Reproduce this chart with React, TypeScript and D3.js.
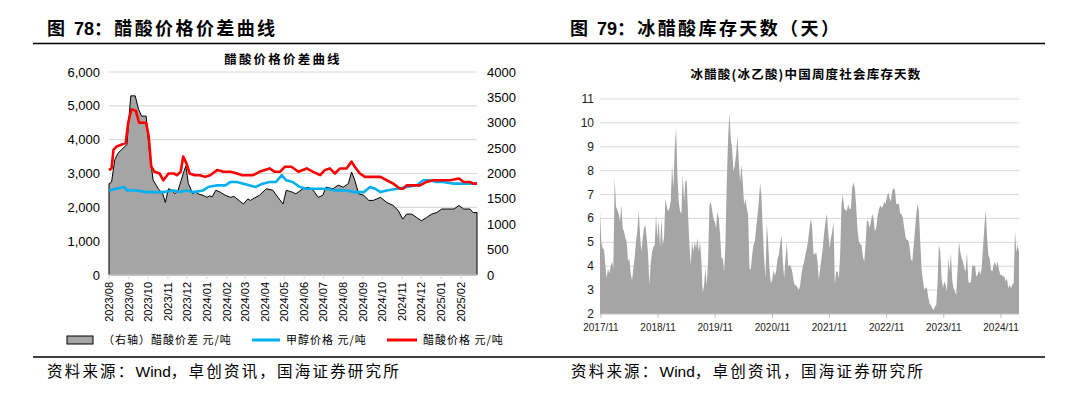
import * as d3 from "d3";

const W = 1075, H = 394;
const CJK = "'Noto Sans CJK SC', sans-serif";
const NUM = "'Liberation Sans', Arial, sans-serif";

// Fig 78 — acetic acid price, methanol price (left axis), spread (right axis)
const spreadData: [string, number][] = [
  ["2023-08-01", 1800], ["2023-08-05", 1830], ["2023-08-10", 2270], ["2023-08-15", 2400], ["2023-08-23", 2500],
  ["2023-08-29", 2570], ["2023-09-04", 3530], ["2023-09-11", 3530], ["2023-09-16", 3270], ["2023-09-21", 3130],
  ["2023-09-28", 3130], ["2023-10-04", 2330], ["2023-10-09", 1870], ["2023-10-17", 1700], ["2023-10-24", 1600],
  ["2023-10-28", 1430], ["2023-11-02", 1700], ["2023-11-07", 1670], ["2023-11-12", 1600], ["2023-11-17", 1670],
  ["2023-11-25", 2000], ["2023-11-29", 2150], ["2023-12-03", 1800], ["2023-12-10", 1600], ["2023-12-14", 1640],
  ["2023-12-18", 1600], ["2023-12-26", 1570], ["2024-01-01", 1530], ["2024-01-05", 1560], ["2024-01-09", 1540],
  ["2024-01-15", 1670], ["2024-01-22", 1630], ["2024-01-30", 1570], ["2024-02-07", 1530], ["2024-02-12", 1550],
  ["2024-02-17", 1500], ["2024-02-27", 1400], ["2024-03-05", 1500], ["2024-03-09", 1470], ["2024-03-13", 1500],
  ["2024-03-23", 1570], ["2024-04-03", 1700], ["2024-04-13", 1670], ["2024-04-21", 1530], ["2024-04-29", 1400],
  ["2024-05-04", 1670], ["2024-05-09", 1650], ["2024-05-14", 1630], ["2024-05-19", 1600], ["2024-05-30", 1700],
  ["2024-06-07", 1730], ["2024-06-15", 1670], ["2024-06-23", 1530], ["2024-06-30", 1570], ["2024-07-05", 1730],
  ["2024-07-16", 1700], ["2024-07-24", 1770], ["2024-08-01", 1730], ["2024-08-09", 1800], ["2024-08-14", 2030],
  ["2024-08-19", 1870], ["2024-08-25", 1600], ["2024-09-02", 1570], ["2024-09-10", 1470], ["2024-09-17", 1470],
  ["2024-09-28", 1530], ["2024-10-08", 1430], ["2024-10-18", 1370], ["2024-10-26", 1270], ["2024-11-02", 1100],
  ["2024-11-08", 1200], ["2024-11-16", 1200], ["2024-11-24", 1130], ["2024-12-01", 1070], ["2024-12-09", 1130],
  ["2024-12-17", 1200], ["2024-12-25", 1230], ["2025-01-02", 1300], ["2025-01-10", 1300], ["2025-01-21", 1300],
  ["2025-01-29", 1370], ["2025-02-05", 1300], ["2025-02-15", 1300], ["2025-02-20", 1230], ["2025-02-26", 1230],
];

const aceticData: [string, number][] = [
  ["2023-08-01", 3100], ["2023-08-05", 3150], ["2023-08-08", 3700], ["2023-08-13", 3800], ["2023-08-20", 3850],
  ["2023-08-27", 3900], ["2023-08-31", 4500], ["2023-09-05", 4900], ["2023-09-12", 4850], ["2023-09-17", 4500],
  ["2023-09-28", 4500], ["2023-10-02", 4100], ["2023-10-06", 3200], ["2023-10-11", 3050], ["2023-10-19", 3000],
  ["2023-10-25", 2800], ["2023-11-02", 3000], ["2023-11-10", 3000], ["2023-11-15", 2950], ["2023-11-21", 3050],
  ["2023-11-25", 3500], ["2023-11-30", 3300], ["2023-12-05", 3000], ["2023-12-13", 2950], ["2023-12-21", 2950],
  ["2023-12-29", 2900], ["2024-01-06", 2950], ["2024-01-17", 3100], ["2024-01-27", 3050], ["2024-02-07", 3050],
  ["2024-02-17", 3000], ["2024-02-25", 2950], ["2024-03-13", 2950], ["2024-03-23", 3050], ["2024-04-08", 3150],
  ["2024-04-16", 3050], ["2024-04-24", 3050], ["2024-05-02", 3200], ["2024-05-12", 3200], ["2024-05-23", 3050],
  ["2024-06-05", 3150], ["2024-06-15", 3050], ["2024-06-26", 2950], ["2024-07-03", 3100], ["2024-07-11", 3150],
  ["2024-07-19", 3000], ["2024-07-27", 3150], ["2024-08-06", 3150], ["2024-08-14", 3350], ["2024-08-19", 3200],
  ["2024-08-27", 3000], ["2024-09-04", 2900], ["2024-09-17", 2900], ["2024-09-28", 2900], ["2024-10-08", 2800],
  ["2024-10-18", 2700], ["2024-10-29", 2550], ["2024-11-03", 2550], ["2024-11-08", 2650], ["2024-11-19", 2650],
  ["2024-11-29", 2650], ["2024-12-09", 2750], ["2024-12-19", 2800], ["2024-12-30", 2800], ["2025-01-15", 2800],
  ["2025-01-29", 2850], ["2025-02-05", 2750], ["2025-02-15", 2750], ["2025-02-20", 2700], ["2025-02-26", 2700],
];

const methanolData: [string, number][] = [
  ["2023-08-01", 2500], ["2023-08-12", 2550], ["2023-08-25", 2600], ["2023-08-29", 2500], ["2023-09-13", 2500],
  ["2023-09-29", 2450], ["2023-10-11", 2450], ["2023-10-24", 2450], ["2023-11-10", 2500], ["2023-11-20", 2450],
  ["2023-11-30", 2500], ["2023-12-10", 2450], ["2023-12-26", 2500], ["2024-01-03", 2600], ["2024-01-17", 2650],
  ["2024-01-30", 2650], ["2024-02-07", 2750], ["2024-02-17", 2750], ["2024-02-27", 2700], ["2024-03-07", 2650],
  ["2024-03-17", 2600], ["2024-03-28", 2700], ["2024-04-08", 2750], ["2024-04-18", 2750], ["2024-04-27", 2950],
  ["2024-05-04", 2800], ["2024-05-14", 2750], ["2024-05-25", 2600], ["2024-06-05", 2550], ["2024-06-20", 2550],
  ["2024-07-05", 2550], ["2024-07-21", 2500], ["2024-08-06", 2500], ["2024-08-19", 2450], ["2024-09-02", 2450],
  ["2024-09-12", 2600], ["2024-09-20", 2550], ["2024-09-28", 2450], ["2024-10-08", 2500], ["2024-10-24", 2550],
  ["2024-11-08", 2600], ["2024-11-24", 2650], ["2024-12-04", 2800], ["2024-12-14", 2800], ["2024-12-25", 2750],
  ["2025-01-04", 2750], ["2025-01-21", 2700], ["2025-02-05", 2700], ["2025-02-26", 2700],
];

const leftTicks = [0, 1000, 2000, 3000, 4000, 5000, 6000];
const rightTicks = [0, 500, 1000, 1500, 2000, 2500, 3000, 3500, 4000];

// Fig 79 — weekly social inventory days, read in order from 2017/11 to 2025/02
const stockStart = "2017-10-26";
const stockEnd = "2025-02-24";
const stockDays: number[] = [
  6.3, 5.0, 4.75, 4.7, 4.05, 3.5, 3.9, 3.7, 4.0, 4.2, 3.9, 7.7, 6.5, 6.35, 6.2, 5.87, 6.56, 5.59, 5.45, 5.2,
  5.0, 4.2, 4.33, 3.7, 3.4, 3.9, 4.4, 5.03, 5.5, 6.36, 5.31, 4.61, 5.17, 5.6, 5.73, 5.2, 4.5, 3.22, 4.1, 4.6,
  4.8, 4.89, 6.15, 5.17, 5.95, 4.75, 6.0, 4.89, 5.2, 6.84, 6.5, 6.3, 6.43, 6.7, 8.24, 7.26, 8.94, 9.8, 7.82, 6.7,
  6.29, 6.2, 7.89, 6.7, 7.61, 7.54, 6.15, 4.89, 4.05, 5.03, 4.61, 5.03, 4.75, 5.17, 4.61, 5.03, 4.2, 2.87, 3.22, 3.91,
  3.22, 4.2, 6.56, 6.7, 6.36, 6.0, 5.87, 5.59, 6.29, 6.0, 5.31, 4.33, 4.33, 3.78, 4.89, 7.54, 9.35, 10.44, 9.35, 8.94,
  7.96, 8.24, 8.66, 9.49, 8.38, 7.54, 8.24, 7.54, 6.56, 6.84, 6.43, 6.15, 3.91, 3.85, 4.47, 4.89, 5.03, 5.59, 6.1, 6.7,
  7.47, 6.9, 5.5, 4.3, 3.5, 5.8, 5.0, 3.9, 3.3, 3.4, 3.85, 3.6, 3.8, 4.3, 4.47, 4.9, 5.31, 4.2, 3.5, 4.3,
  5.0, 4.0, 4.05, 4.0, 3.8, 3.4, 3.2, 3.2, 3.1, 3.0, 3.2, 3.7, 4.0, 4.2, 4.5,
  4.75, 5.1, 5.6, 6.0, 5.59, 4.5, 4.5, 4.6, 4.2, 3.43, 3.9, 4.3, 4.8, 5.4, 5.87, 6.2, 5.45, 4.75, 5.17, 5.45,
  5.87, 3.22, 3.78, 3.78, 3.5, 4.5, 6.6, 7.0, 6.4, 6.35, 6.3, 6.6, 6.4, 6.4, 7.3, 7.5, 7.25, 6.5, 5.5, 5.05,
  4.92, 4.89, 4.4, 4.2, 4.9, 5.9, 5.9, 5.6, 5.85, 6.2, 6.0, 5.45, 5.6, 6.1, 6.36, 6.55, 6.45, 6.5, 6.7, 6.6,
  6.9, 7.1, 6.85, 6.7, 7.15, 7.26, 7.2, 6.6, 6.6, 6.6, 6.2, 6.2, 6.0, 5.6, 5.2, 5.1, 5.1, 4.8, 4.3, 4.2,
  4.8, 5.5, 6.15, 6.6, 6.3, 5.0, 3.9, 3.4, 3.0, 3.1, 3.1, 2.7, 2.43, 2.38, 2.24, 2.17, 2.31, 2.38, 3.36, 4.89,
  4.61, 3.5, 3.08, 3.36, 3.22, 2.94, 4.33, 3.78, 4.54, 3.36, 3.08, 2.94, 2.8, 3.91, 5.03, 4.61, 4.33, 4.2, 3.91, 3.78,
  4.61, 3.36, 3.29, 3.36, 4.05, 3.98, 4.05, 3.57, 3.64, 3.85, 3.64, 3.91, 4.75, 5.59, 6.36, 5.31, 4.47, 4.33, 3.85, 3.78,
  4.05, 4.2, 3.98, 4.2, 3.85, 3.64, 3.64, 3.57, 3.57, 3.36, 3.5, 3.08, 3.22, 3.08, 3.22, 3.3, 5.5, 4.6, 4.9, 4.6,
];
const stockTicks = [2, 3, 4, 5, 6, 7, 8, 9, 10, 11];
const stockYears = [2017, 2018, 2019, 2020, 2021, 2022, 2023, 2024];

const parse = d3.timeParse("%Y-%m-%d");

function PriceChart() {
  const x = d3.scaleTime([new Date(2023, 7, 1), new Date(2025, 1, 26)], [109, 477]);
  const yL = d3.scaleLinear([0, 6000], [275, 72]);
  const yR = d3.scaleLinear([0, 4000], [275, 72]);
  const months = d3.timeMonth.range(new Date(2023, 7, 1), new Date(2025, 2, 1));
  const fmt = d3.timeFormat("%Y/%m");

  const spread = spreadData.map(([d, v]) => ({ d: parse(d)!, v }));
  const area = d3.area<{ d: Date; v: number }>().x((p) => x(p.d)).y0(yR(0)).y1((p) => yR(p.v));
  const line = d3.line<[string, number]>().x((p) => x(parse(p[0])!)).y((p) => yL(p[1]));

  return (
    <g>
      <text x={283} y={64} textAnchor="middle" fontFamily={CJK} fontWeight={700} fontSize={12.5} letterSpacing={2.2}>
        醋酸价格价差曲线
      </text>
      {leftTicks.map((t) => (
        <g key={t}>
          {t > 0 && <line x1={109} x2={477} y1={yL(t)} y2={yL(t)} stroke="#d9d9d9" strokeWidth={1.2} />}
          <text x={100} y={yL(t) + 4.5} textAnchor="end" fontFamily={NUM} fontSize={13}>
            {d3.format(",")(t)}
          </text>
        </g>
      ))}
      {rightTicks.map((t) => (
        <text key={t} x={487} y={yR(t) + 4.5} fontFamily={NUM} fontSize={13}>{t}</text>
      ))}
      <path d={area(spread) ?? ""} fill="#a5a5a5" stroke="#000" strokeWidth={1} />
      <path d={line(methanolData) ?? ""} fill="none" stroke="#00b0f0" strokeWidth={2.6} strokeLinejoin="round" />
      <path d={line(aceticData) ?? ""} fill="none" stroke="#ff0000" strokeWidth={2.6} strokeLinejoin="round" />
      <line x1={109} x2={477} y1={yL(0)} y2={yL(0)} stroke="#d9d9d9" strokeWidth={1.5} />
      {months.map((m) => (
        <g key={+m}>
          <line x1={x(m)} x2={x(m)} y1={275} y2={279} stroke="#d9d9d9" />
          <text transform={`translate(${x(m) + 4},282) rotate(-90)`} textAnchor="end" fontFamily={NUM} fontSize={11}>
            {fmt(m)}
          </text>
        </g>
      ))}
      {/* legend */}
      <rect x={67} y={336} width={26} height={8} fill="#a5a5a5" stroke="#000" strokeWidth={1} />
      <text x={103} y={344} fontFamily={CJK} fontSize={11} letterSpacing={1}>（右轴）醋酸价差 元/吨</text>
      <line x1={252} x2={280} y1={340} y2={340} stroke="#00b0f0" strokeWidth={3} />
      <text x={286} y={344} fontFamily={CJK} fontSize={11} letterSpacing={1}>甲醇价格 元/吨</text>
      <line x1={387} x2={417} y1={340} y2={340} stroke="#ff0000" strokeWidth={3} />
      <text x={423} y={344} fontFamily={CJK} fontSize={11} letterSpacing={1}>醋酸价格 元/吨</text>
    </g>
  );
}

function StockChart() {
  const t0 = parse(stockStart)!, t1 = parse(stockEnd)!;
  const x = d3.scaleTime([t0, t1], [600, 1019]);
  const y = d3.scaleLinear([2, 11], [314, 99]);
  const n = stockDays.length;
  const dateAt = d3.scaleLinear([0, n - 1], [+t0, +t1]);
  const area = d3.area<number>().x((_, i) => x(new Date(dateAt(i)))).y0(y(2)).y1((v) => y(v));

  return (
    <g>
      <text x={806} y={79} textAnchor="middle" fontFamily={CJK} fontWeight={700} fontSize={12.5} letterSpacing={1.2}>
        冰醋酸(冰乙酸)中国周度社会库存天数
      </text>
      {stockTicks.map((t) => (
        <g key={t}>
          {t > 2 && <line x1={600} x2={1019} y1={y(t)} y2={y(t)} stroke="#d9d9d9" strokeWidth={1} />}
          <text x={594} y={y(t) + 4} textAnchor="end" fontFamily={NUM} fontSize={12} fill="#222">{t}</text>
        </g>
      ))}
      <path d={area(stockDays) ?? ""} fill="#a5a5a5" />
      <line x1={600} x2={1019} y1={y(2)} y2={y(2)} stroke="#bfbfbf" strokeWidth={1} />
      {stockYears.map((yr) => {
        const px = x(new Date(yr, 10, 1));
        return (
          <g key={yr}>
            <line x1={px} x2={px} y1={314} y2={318} stroke="#bfbfbf" />
            <text x={px} y={331} textAnchor="middle" fontFamily={NUM} fontSize={10} fill="#222">{`${yr}/11`}</text>
          </g>
        );
      })}
    </g>
  );
}

export default function App() {
  return (
    <div style={{ position: "absolute", left: 0, top: 0 }}>
      <svg width={W} height={H} style={{ display: "block", background: "#fff" }}>
        <text x={47} y={35} fontFamily={CJK} fontWeight={700} fontSize={18} letterSpacing={2.4}>
          图 <tspan fontFamily={NUM} letterSpacing={0}>78</tspan>：醋酸价格价差曲线
        </text>
        <text x={570} y={35} fontFamily={CJK} fontWeight={700} fontSize={18} letterSpacing={2.4}>
          图 <tspan fontFamily={NUM} letterSpacing={0}>79</tspan>：冰醋酸库存天数（天）
        </text>
        <line x1={33} x2={1045} y1={43.5} y2={43.5} stroke="#000" strokeWidth={1.3} />
        <PriceChart />
        <StockChart />
        <line x1={33} x2={1045} y1={357} y2={357} stroke="#000" strokeWidth={1.3} />
        <text x={47} y={377} fontFamily={CJK} fontSize={15.5} letterSpacing={2.2}>
          资料来源：<tspan fontFamily={NUM} letterSpacing={0}>Wind</tspan>，卓创资讯，国海证券研究所
        </text>
        <text x={571} y={377} fontFamily={CJK} fontSize={15.5} letterSpacing={2.2}>
          资料来源：<tspan fontFamily={NUM} letterSpacing={0}>Wind</tspan>，卓创资讯，国海证券研究所
        </text>
      </svg>
    </div>
  );
}
